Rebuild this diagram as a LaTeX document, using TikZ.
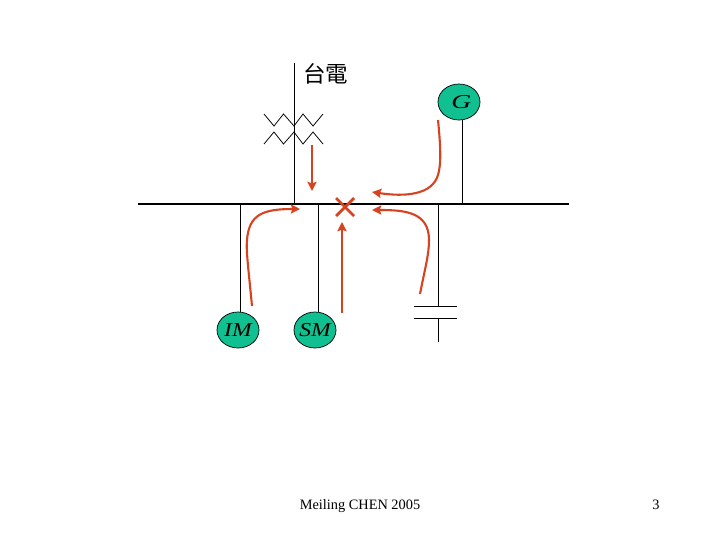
\documentclass[tikz,border=0pt]{standalone}
\usepackage{fontspec}
\setmainfont{Liberation Serif}
\newfontfamily\cjkfont{Noto Sans CJK TC}
\usetikzlibrary{arrows.meta, shapes.geometric}
\definecolor{motorgreen}{HTML}{10C090}
\definecolor{flowred}{HTML}{D8431F}
\newcommand{\motorname}[2][1.2]{\scalebox{#1}[1]{#2}}

\begin{document}
\begin{tikzpicture}[
  x=0.025cm, y=-0.025cm,
  wire/.style={black, line width=0.55pt},
  bus/.style={black, line width=2.1pt},
  motor/.style={ellipse, draw=black, line width=0.5pt, fill=motorgreen, inner sep=-8pt,
    minimum width=1.05cm, minimum height=0.9cm, font=\fontsize{14}{14}\selectfont\itshape},
  flow/.style={flowred, line width=1.5pt, -{Stealth[length=6.5pt, width=6.5pt, inset=1pt]}},
  fault/.style={flowred, line width=2pt},
  label/.style={black, anchor=base, font=\fontsize{10.2}{12}\selectfont},
]
\useasboundingbox (0,0) rectangle (720,540);

% ===== Machines =====
\node[motor] (G) at (459,102) {\motorname[1.4]{$\,$G}};
\node[motor] (IM) at (238,330) {\motorname{IM}};
\node[motor] (SM) at (315,330) {\motorname{SM}};

% ===== Bus and feeders =====
\coordinate (busL) at (138,204);
\coordinate (busR) at (569,204);
\draw[bus] (busL) -- (busR);

\coordinate (gridtop) at (294,63);
\coordinate (gridbus) at (294,204);
\coordinate (imbus) at (240,204);
\coordinate (smbus) at (318,204);
\coordinate (gbus) at (462,204);
\draw[wire] (gridtop) -- (gridbus);
\draw[wire] (imbus) -- (IM.north -| imbus);
\draw[wire] (smbus) -- (SM.north -| smbus);
\draw[wire] (gbus) -- (G.south -| gbus);

\node[anchor=west, inner sep=0pt, font=\cjkfont\fontsize{16}{16}\selectfont] (grid) at (303,74) {台電};

% Transformer windings
\draw[wire] (264,114) -- (274,126) -- (283.5,114) -- (294,126) -- (303,114) -- (313,126) -- (323,114);
\draw[wire] (264,144) -- (274,132) -- (283.5,144) -- (294,132) -- (303,144) -- (313,132) -- (323,144);

% Capacitor
\coordinate (capbus) at (438,204);
\coordinate (capA) at (438,306);
\coordinate (capB) at (438,318);
\coordinate (capend) at (438,342);
\draw[wire] (capbus) -- (capA);
\draw[wire] (capB) -- (capend);
\draw[wire] (414,306) -- (457,306);
\draw[wire] (414,318) -- (457,318);

% ===== Fault mark =====
\draw[fault] (336,198) -- (354,216);
\draw[fault] (354,198) -- (336,216);

% ===== Fault currents =====
\coordinate (faultN) at (312,145);
\coordinate (faultNend) at (312,191);
\draw[flow] (faultN) -- (faultNend);

\coordinate (imflow) at (252,306);
\coordinate (imflowend) at (300,209);
\draw[flow] (imflow) .. controls (248,265) and (246,250) .. (247,240)
  .. controls (249,215) and (262,209) .. (imflowend);

\coordinate (smflow) at (342,313);
\coordinate (smflowend) at (342,222);
\draw[flow] (smflow) -- (smflowend);

\coordinate (gflow) at (438,120);
\coordinate (gflowend) at (372,192);
\draw[flow] (gflow) .. controls (441,150) and (441,165) .. (438,175)
  .. controls (432,195) and (405,197) .. (gflowend);

\coordinate (capflow) at (420,294);
\coordinate (capflowend) at (372,210);
\draw[flow] (capflow) .. controls (425,268) and (429,255) .. (429,240)
  .. controls (429,212) and (405,210) .. (capflowend);

% ===== Footer =====
\node[label] (footer) at (360,509) {Meiling CHEN 2005};
\node[label] (page) at (656,509) {3};
\end{tikzpicture}
\end{document}
